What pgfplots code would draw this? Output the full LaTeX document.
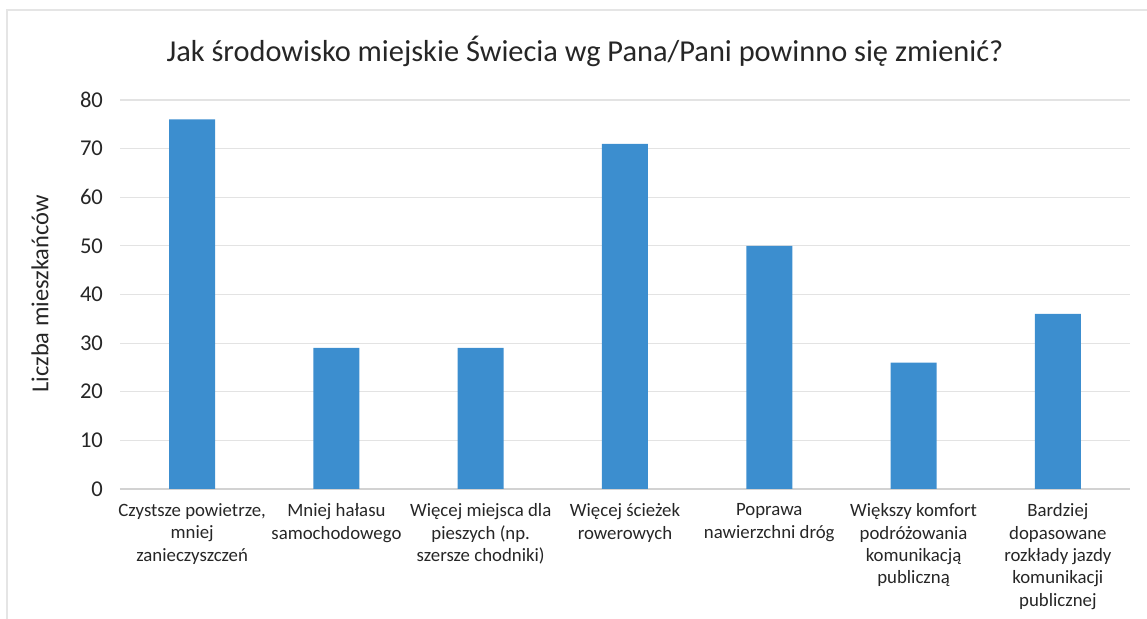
\documentclass[border=0pt]{standalone}
\usepackage{pgfplots}
\pgfplotsset{compat=1.18}
\usepackage{fontspec}
\setmainfont{Carlito}
\definecolor{barblue}{RGB}{60,142,207}
\begin{document}
\begin{tikzpicture}
\path[use as bounding box] (0pt,0pt) rectangle (573.5pt,309.5pt);
\draw[gray!20, line width=0.6pt] (3.5pt,0pt) -- (3.5pt,304.5pt) -- (573.5pt,304.5pt);
\node[anchor=base, font=\fontsize{15.2}{18}\selectfont, text=black!85] at (292.5pt,278.5pt) {Jak środowisko miejskie Świecia wg Pana/Pani powinno się zmienić?};
\node[rotate=90, font=\fontsize{12.2}{14}\selectfont, text=black!85] at (20pt,162.5pt) {Liczba mieszkańców};
\begin{axis}[
  at={(60pt,65pt)}, anchor=south west,
  scale only axis, width=505pt, height=194.5pt,
  xmin=-0.5, xmax=6.5, ymin=0, ymax=80,
  ytick={0,10,...,80},
  xtick={0,...,6},
  xticklabels={
    {Czystsze powietrze,\\mniej\\zanieczyszczeń},
    {Mniej hałasu\\samochodowego},
    {Więcej miejsca dla\\pieszych (np.\\szersze chodniki)},
    {Więcej ścieżek\\rowerowych},
    {Poprawa\\nawierzchni dróg},
    {Większy komfort\\podróżowania\\komunikacją\\publiczną},
    {Bardziej\\dopasowane\\rozkłady jazdy\\komunikacji\\publicznej}},
  xticklabel style={align=center, font=\fontsize{9.4}{11.2}\selectfont, text=black!85, yshift=-3.8pt},
  yticklabel style={font=\fontsize{11.3}{13}\selectfont, text=black!85, xshift=-5pt},
  /pgf/number format/assume math mode=true,
  major tick length=0pt,
  ymajorgrids, grid style={gray!22, line width=0.6pt},
  axis lines*=left,
  y axis line style={draw=none},
  x axis line style={gray!35, line width=0.6pt, -},
  ybar, bar width=23pt,
]
\addplot[fill=barblue, draw=none] coordinates {(0,76) (1,29) (2,29) (3,71) (4,50) (5,26) (6,36)};
\end{axis}
\end{tikzpicture}
\end{document}
